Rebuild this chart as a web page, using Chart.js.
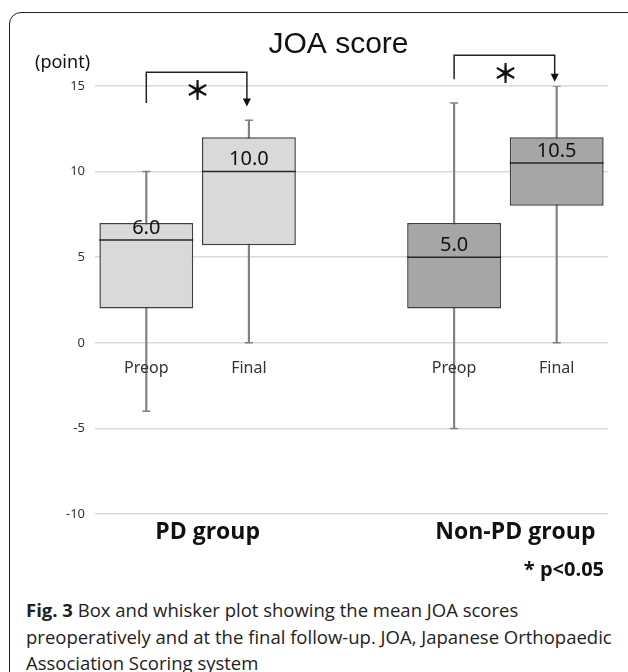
<!DOCTYPE html>
<html>
<head>
<meta charset="utf-8">
<script src="https://cdn.jsdelivr.net/npm/chart.js@4"></script>
<style>
	html, body { margin: 0; padding: 0; background: #fff; }
	body { width: 628px; height: 672px; overflow: hidden; position: relative; }
	#frame {
		position: absolute; left: 9px; top: 12px; width: 660px; height: 700px;
		border: 1.5px solid #222; border-radius: 12px; box-sizing: border-box;
	}
	#chart { position: absolute; left: 0; top: 0; }
	#caption {
		position: absolute; left: 26px; top: 597px; width: 615px;
		font-family: "Open Sans", sans-serif; font-size: 18.5px; line-height: 26.5px; color: #222;
	}
</style>
</head>
<body>
<div id="frame"></div>
<canvas id="chart" width="628" height="590"></canvas>
<div id="caption"><b>Fig. 3</b> Box and whisker plot showing the mean JOA scores<br>preoperatively and at the final follow-up. JOA, Japanese Orthopaedic<br>Association Scoring system</div>
<script>
// categories (empty slot separates the two groups)
const categories = ['Preop', 'Final', '', 'Preop', 'Final'];
const groups = ['PD group', 'Non-PD group'];
const groupMembers = [[0, 1], [3, 4]];

// box plot values (points)
const whiskerMin = [-4, 0, null, -5, 0];
const whiskerMax = [10, 13, null, 14, 15];
const q1 = [2, 5.7, null, 2, 8];
const q3 = [7, 12, null, 7, 12];
const medians = [6.0, 10.0, null, 5.0, 10.5];

// y axis
const yMin = -10, yMax = 15, yStep = 5;

// significance brackets: [from, to], and levels [left foot, top, arrow tip]
const sigPairs = [[0, 1], [3, 4]];
const sigLevels = [[14.0, 15.8, 13.8], [15.4, 16.8, 15.25]];
const sigNote = '* p<0.05';
const titleText = 'JOA score';

const light = '#d9d9d9', dark = '#a6a6a6';
const fillFor = c => c.dataIndex < 2 ? light : dark;

const annotate = {
	id: 'annotate',
	afterDatasetsDraw(chart) {
		const { ctx, chartArea, scales: { x, y } } = chart;
		ctx.save();
		ctx.textAlign = 'center';
		ctx.textBaseline = 'middle';

		// title
		ctx.fillStyle = '#111';
		ctx.font = '30px "Liberation Sans", Arial, sans-serif';
		ctx.fillText(titleText, (chartArea.left + chartArea.right) / 2 - 13, chartArea.top - 41);

		// median labels
		const med = chart.getDatasetMeta(2);
		ctx.font = '20px "Noto Sans", sans-serif';
		medians.forEach((m, i) => {
			if (m == null) return;
			const p = med.data[i];
			ctx.fillText(m.toFixed(1), p.x, p.y - 12);
		});

		// category labels under the zero line
		ctx.fillStyle = '#333';
		ctx.font = '16px "Noto Sans", sans-serif';
		categories.forEach((c, i) => {
			if (c) ctx.fillText(c, x.getPixelForValue(i), y.getPixelForValue(0) + 26);
		});

		// group labels
		ctx.fillStyle = '#111';
		ctx.font = 'bold 23px "Open Sans", sans-serif';
		groups.forEach((g, k) => {
			const [a, b] = groupMembers[k];
			const cx = (x.getPixelForValue(a) + x.getPixelForValue(b)) / 2 + 10;
			ctx.fillText(g, cx, chartArea.bottom + 18);
		});

		// y unit
		ctx.font = '18px "Noto Sans", sans-serif';
		ctx.textAlign = 'left';
		ctx.fillText('(point)', chartArea.left - 60, chartArea.top - 23);

		// significance brackets
		ctx.strokeStyle = '#222';
		ctx.fillStyle = '#111';
		ctx.lineWidth = 1.5;
		sigPairs.forEach(([a, b], k) => {
			const [foot, top, tip] = sigLevels[k];
			const xa = x.getPixelForValue(a), xb = x.getPixelForValue(b) - 2;
			const yf = y.getPixelForValue(foot), yt = y.getPixelForValue(top), yp = y.getPixelForValue(tip);
			ctx.beginPath();
			ctx.moveTo(xa, yf);
			ctx.lineTo(xa, yt);
			ctx.lineTo(xb, yt);
			ctx.lineTo(xb, yp - 6);
			ctx.stroke();
			ctx.beginPath();
			ctx.moveTo(xb - 4, yp - 8);
			ctx.lineTo(xb + 4, yp - 8);
			ctx.lineTo(xb, yp);
			ctx.closePath();
			ctx.fill();
			ctx.font = 'bold 26px "Noto Sans CJK JP", sans-serif';
			ctx.textAlign = 'center';
			ctx.fillText('＊', (xa + xb) / 2 + 1, yt + 18);
		});

		// p note
		ctx.font = 'bold 20px "Open Sans", sans-serif';
		ctx.textAlign = 'right';
		ctx.fillText(sigNote, chartArea.right - 4, chartArea.bottom + 56);

		ctx.restore();
	}
};

new Chart(document.getElementById('chart'), {
	type: 'bar',
	data: {
		labels: categories,
		datasets: [
			{
				label: 'box',
				data: q1.map((v, i) => v == null ? null : [v, q3[i]]),
				backgroundColor: fillFor,
				borderColor: '#404040',
				borderWidth: 1.5,
				borderSkipped: false,
				grouped: false,
				categoryPercentage: 1,
				barPercentage: 0.915,
				order: 2
			},
			{
				label: 'whisker',
				data: whiskerMin.map((v, i) => v == null ? null : [v, whiskerMax[i]]),
				backgroundColor: '#808080',
				barThickness: 1.5,
				grouped: false,
				order: 3
			},
			{
				label: 'median',
				type: 'line',
				data: medians,
				showLine: false,
				pointStyle: 'line',
				pointRadius: 47,
				pointHoverRadius: 47,
				pointBorderColor: '#262626',
				pointBorderWidth: 1.5,
				order: 1
			},
			{
				label: 'min',
				type: 'line',
				data: whiskerMin,
				showLine: false,
				pointStyle: 'line',
				pointRadius: 4,
				pointBorderColor: '#808080',
				pointBorderWidth: 1.5,
				order: 1
			},
			{
				label: 'max',
				type: 'line',
				data: whiskerMax,
				showLine: false,
				pointStyle: 'line',
				pointRadius: 4,
				pointBorderColor: '#808080',
				pointBorderWidth: 1.5,
				order: 1
			}
		]
	},
	options: {
		responsive: false,
		animation: false,
		layout: { autoPadding: false, padding: { left: 0, right: 20, top: 86, bottom: 76 } },
		scales: {
			x: { display: false, offset: true },
			y: {
				min: yMin,
				max: yMax,
				ticks: {
					stepSize: yStep,
					padding: 10,
					color: '#333',
					font: { size: 13, family: '"Noto Sans", sans-serif' }
				},
				grid: { color: '#d9d9d9', lineWidth: 1.5, drawTicks: false },
				border: { display: false },
				afterFit(scale) { scale.width = 95; }
			}
		},
		plugins: {
			legend: { display: false },
			tooltip: { enabled: false },
			title: { display: false }
		}
	},
	plugins: [annotate]
});
</script>
</body>
</html>
